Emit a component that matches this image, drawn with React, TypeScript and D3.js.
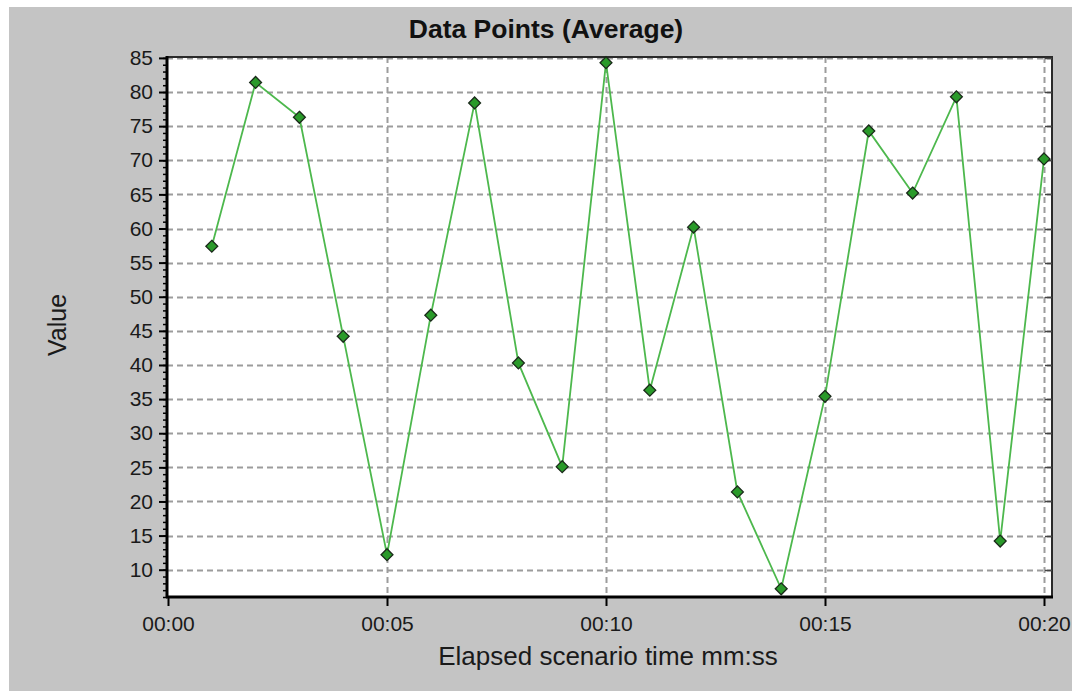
import { useRef, useEffect } from 'react';
import * as d3 from 'd3';

// elapsed seconds and average values
const seconds = [1, 2, 3, 4, 5, 6, 7, 8, 9, 10, 11, 12, 13, 14, 15, 16, 17, 18, 19, 20];
const values = [57.4, 81.4, 76.3, 44.2, 12.2, 47.3, 78.4, 40.3, 25.1, 84.3, 36.3, 60.2, 21.4, 7.2, 35.4, 74.3, 65.2, 79.3, 14.2, 70.2];
const xTicks = [0, 5, 10, 15, 20];
const yTicks = [10, 15, 20, 25, 30, 35, 40, 45, 50, 55, 60, 65, 70, 75, 80, 85];

const fmtTime = (s: number) => `${String(Math.floor(s / 60)).padStart(2, '0')}:${String(s % 60).padStart(2, '0')}`;

const DataPointsChart = () => {
    const svgRef = useRef<SVGSVGElement | null>(null);

    const renderChart = () => {
        const svgElement = svgRef.current;
        if (!svgElement) return;

        const width = 1072;
        const height = 691;
        const plot = { left: 167, right: 1052, top: 57, bottom: 597 };
        const font = "'Liberation Sans', Arial, sans-serif";

        const svg = d3.select(svgElement)
            .attr('width', width)
            .attr('height', height);

        svg.selectAll('*').remove();

        // gray window background
        svg.append('rect')
            .attr('x', 9)
            .attr('y', 7)
            .attr('width', width - 9)
            .attr('height', height - 7)
            .attr('fill', '#C4C4C4');

        svg.append('rect')
            .attr('x', plot.left)
            .attr('y', plot.top)
            .attr('width', plot.right - plot.left)
            .attr('height', plot.bottom - plot.top)
            .attr('fill', '#FFFFFF');

        const x = d3.scaleLinear()
            .domain([0, 20])
            .range([168, 1044]);

        const y = d3.scaleLinear()
            .domain([6, 85])
            .range([plot.bottom, plot.top + 0.9]);

        // dashed grid
        svg.append('g')
            .selectAll('line')
            .data(yTicks)
            .join('line')
            .attr('x1', plot.left)
            .attr('x2', plot.right)
            .attr('y1', d => Math.round(y(d)) + 0.5)
            .attr('y2', d => Math.round(y(d)) + 0.5)
            .attr('stroke', '#9C9C9C')
            .attr('stroke-width', 2)
            .attr('stroke-dasharray', '6,4');

        svg.append('g')
            .selectAll('line')
            .data(xTicks.filter(d => d > 0))
            .join('line')
            .attr('x1', d => Math.round(x(d)) + 0.5)
            .attr('x2', d => Math.round(x(d)) + 0.5)
            .attr('y1', plot.top)
            .attr('y2', plot.bottom)
            .attr('stroke', '#9C9C9C')
            .attr('stroke-width', 2)
            .attr('stroke-dasharray', '6,4');

        // frame: top + right dark, left + bottom black axes
        svg.append('line')
            .attr('x1', plot.left).attr('x2', plot.right + 1)
            .attr('y1', plot.top).attr('y2', plot.top)
            .attr('stroke', '#2A2A2A').attr('stroke-width', 2);
        svg.append('line')
            .attr('x1', plot.right).attr('x2', plot.right)
            .attr('y1', plot.top).attr('y2', plot.bottom)
            .attr('stroke', '#2A2A2A').attr('stroke-width', 2);

        // right side inner ticks
        svg.append('g')
            .selectAll('line')
            .data(yTicks)
            .join('line')
            .attr('x1', plot.right - 7)
            .attr('x2', plot.right)
            .attr('y1', d => Math.round(y(d)) + 0.5)
            .attr('y2', d => Math.round(y(d)) + 0.5)
            .attr('stroke', '#444')
            .attr('stroke-width', 1.5);

        const yAxis = svg.append('g')
            .attr('transform', `translate(${plot.left}, 0)`)
            .call(d3.axisLeft(y)
                .tickValues(d3.range(6, 86, 1))
                .tickSize(4)
                .tickFormat(() => '')
            );
        yAxis.select('.domain').remove();
        yAxis.selectAll('line').attr('stroke', '#000').attr('stroke-width', 1.5);

        const yMajor = svg.append('g')
            .attr('transform', `translate(${plot.left}, 0)`)
            //@ts-ignore
            .call(d3.axisLeft(y)
                .tickValues(yTicks)
                .tickSize(8)
                .tickPadding(6)
            );
        yMajor.select('.domain').remove();
        yMajor.selectAll('line').attr('stroke', '#000').attr('stroke-width', 2);
        yMajor.selectAll('text')
            .attr('fill', '#1A1A1A')
            .style('font-family', font)
            .style('font-size', '21px');

        const xAxis = svg.append('g')
            .attr('transform', `translate(0, ${plot.bottom})`)
            //@ts-ignore
            .call(d3.axisBottom(x)
                .tickValues(xTicks)
                .tickSize(9)
                .tickPadding(10)
                //@ts-ignore
                .tickFormat(d => fmtTime(d as number))
            );
        xAxis.select('.domain').remove();
        xAxis.selectAll('line').attr('stroke', '#000').attr('stroke-width', 2);
        xAxis.selectAll('text')
            .attr('fill', '#1A1A1A')
            .style('font-family', font)
            .style('font-size', '21px');

        svg.append('line')
            .attr('x1', plot.left).attr('x2', plot.left)
            .attr('y1', plot.top - 1).attr('y2', plot.bottom + 1)
            .attr('stroke', '#000').attr('stroke-width', 3);
        svg.append('line')
            .attr('x1', plot.left - 1).attr('x2', plot.right + 1)
            .attr('y1', plot.bottom).attr('y2', plot.bottom)
            .attr('stroke', '#000').attr('stroke-width', 3);

        // series line
        const points = seconds.map((s, i) => ({ s, v: values[i] }));
        const line = d3.line<{ s: number, v: number }>()
            .x(d => x(d.s))
            .y(d => y(d.v));

        svg.append('path')
            .datum(points)
            .attr('fill', 'none')
            .attr('stroke', '#4DB84D')
            .attr('stroke-width', 1.8)
            .attr('d', line);

        svg.append('g')
            .selectAll('path')
            .data(points)
            .join('path')
            .attr('transform', d => `translate(${x(d.s)}, ${y(d.v)})`)
            .attr('d', d3.symbol(d3.symbolDiamond2, 90)() as string)
            .attr('fill', '#2A9A2A')
            .attr('stroke', '#1A2A1A')
            .attr('stroke-width', 1.3);

        // titles
        svg.append('text')
            .attr('x', 546)
            .attr('y', 38)
            .attr('text-anchor', 'middle')
            .text('Data Points (Average)')
            .style('font-family', font)
            .style('font-weight', 'bold')
            .style('font-size', '26.5px')
            .style('fill', '#111');

        svg.append('text')
            .attr('x', 608)
            .attr('y', 665)
            .attr('text-anchor', 'middle')
            .text('Elapsed scenario time mm:ss')
            .style('font-family', font)
            .style('font-size', '26px')
            .style('fill', '#1A1A1A');

        svg.append('text')
            .attr('transform', 'translate(66, 325) rotate(-90)')
            .attr('text-anchor', 'middle')
            .text('Value')
            .style('font-family', font)
            .style('font-size', '25px')
            .style('fill', '#1A1A1A');
    };

    useEffect(() => {
        renderChart();
    }, []);

    return (
        <svg ref={svgRef} style={{ position: 'absolute', left: 0, top: 0, display: 'block' }}></svg>
    );
};

export default function App() {
    return <DataPointsChart />;
}
